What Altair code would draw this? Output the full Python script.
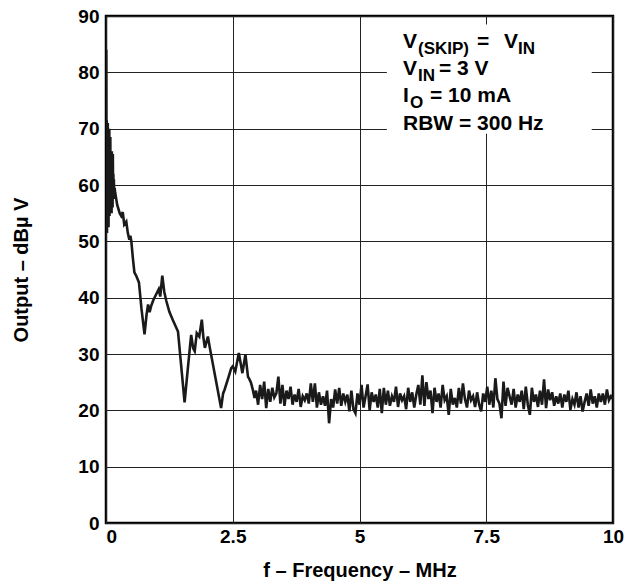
import altair as alt
import numpy as np
import pandas as pd

# Spectrum below 3 MHz: switching harmonics and their roll-off (MHz, dBµV)
head_freq = [0.000, 0.005, 0.010, 0.015, 0.020, 0.025, 0.030, 0.035, 0.040, 0.045,
             0.050, 0.055, 0.060, 0.065, 0.070, 0.075, 0.080, 0.085, 0.090, 0.095,
             0.100, 0.105, 0.110, 0.115, 0.120, 0.125, 0.130, 0.135, 0.140, 0.145,
             0.150, 0.155, 0.160, 0.170, 0.180,
             0.22, 0.27, 0.30, 0.33, 0.36, 0.40, 0.43, 0.46, 0.48, 0.50,
             0.53, 0.56, 0.60, 0.65, 0.70, 0.76, 0.80, 0.83, 0.86, 0.89,
             0.93, 0.99, 1.04, 1.07, 1.11, 1.15, 1.19, 1.25, 1.32, 1.42,
             1.55, 1.62, 1.68, 1.72, 1.75, 1.79, 1.84, 1.89, 1.92, 1.95,
             2.01, 2.05, 2.27, 2.31, 2.34, 2.42, 2.47, 2.50, 2.55, 2.62,
             2.69, 2.75, 2.80, 2.83, 2.86, 2.90, 2.93]
head_level = [51.5, 84.0, 52.0, 71.5, 51.5, 70.5, 53.0, 71.0, 54.0, 69.5,
              52.5, 68.0, 55.0, 70.0, 54.5, 67.5, 56.0, 68.5, 55.5, 66.0,
              56.5, 65.5, 55.0, 66.0, 57.0, 64.0, 56.0, 65.5, 58.0, 62.0,
              57.5, 61.0, 58.5, 59.5, 58.7,
              56.5, 55.0, 54.5, 55.2, 53.0, 53.5, 51.5, 50.3, 51.0, 50.0,
              47.0, 44.5, 43.8, 42.7, 38.0, 33.5, 37.0, 38.8, 37.4, 38.5,
              39.5, 40.6, 41.5, 40.2, 43.9, 41.0, 39.4, 37.5, 36.0, 34.0,
              21.4, 28.0, 33.4, 31.0, 30.5, 33.7, 33.1, 36.1, 33.0, 31.1,
              33.1, 31.0, 20.4, 23.0, 23.7, 26.0, 27.5, 27.8, 26.9, 30.2,
              26.6, 29.9, 26.0, 25.5, 24.9, 23.5, 22.2]

# Noise floor sweep, 2.96 MHz to 10 MHz in 40 kHz bins (dBµV)
floor_start = 2.96
floor_step = 0.04
floor_level = [
    23.5, 21.0, 24.5, 22.0, 25.1, 20.4, 23.8, 21.5, 24.0, 22.3,
    23.0, 26.0, 21.2, 24.5, 20.8, 23.5, 22.0, 24.2, 21.0, 22.8,
    21.5, 23.8, 20.6, 22.5, 21.8, 23.0, 21.2, 24.8, 21.5, 24.8,
    20.5, 23.2, 21.0, 22.5, 20.8, 23.5, 17.7, 22.0, 20.5, 23.7,
    21.2, 24.0, 20.8, 23.0, 21.5, 22.8, 19.8, 23.5, 20.2, 19.5,
    23.0, 21.0, 24.5, 20.5, 22.5, 24.6, 20.0, 23.2, 21.5, 22.8,
    20.5, 23.8, 19.5, 24.0, 21.0, 23.5, 20.8, 22.5, 21.5, 24.2,
    20.6, 23.0, 21.8, 22.5, 20.2, 24.0, 21.5, 23.2, 20.5, 22.8,
    24.5, 21.0, 26.2, 20.8, 25.0, 22.0, 23.5, 19.5, 24.0, 21.5,
    23.0, 20.5, 24.5, 21.8, 22.5, 19.2, 23.8, 21.0, 22.2, 20.5,
    24.0, 21.2, 24.8, 22.0, 20.5, 23.5, 21.8, 22.5, 20.6, 23.2,
    21.0, 19.8, 23.0, 21.5, 24.2, 21.0, 23.5, 20.5, 25.7, 22.0,
    21.2, 18.6, 25.1, 20.8, 24.0, 22.5, 21.0, 23.8, 20.5, 22.8,
    21.5, 23.5, 20.2, 24.2, 21.0, 19.2, 24.0, 21.5, 22.8, 20.6,
    23.5, 21.0, 25.5, 20.4, 23.7, 21.8, 23.2, 20.8, 22.5, 21.2,
    23.0, 20.5, 22.8, 21.5, 23.5, 20.1, 22.0, 21.0, 23.2, 20.5,
    22.5, 19.8, 21.5, 23.0, 20.8, 23.7, 21.2, 22.5, 20.5, 23.0,
    21.5, 23.0, 21.0, 23.7, 21.8, 22.5, 22.0,
]
floor_freq = np.round(floor_start + floor_step * np.arange(len(floor_level)), 3)

x_ticks = [0, 2.5, 5, 7.5, 10]
y_ticks = [0, 10, 20, 30, 40, 50, 60, 70, 80, 90]

spectrum = pd.DataFrame({
    "freq": list(head_freq) + list(floor_freq),
    "level": list(head_level) + list(floor_level),
})

FONT = "Liberation Sans"
W, H = 507, 507

x_scale = alt.Scale(domain=[0, 10], nice=False, zero=False)
y_scale = alt.Scale(domain=[0, 90], nice=False, zero=False)

trace = alt.Chart(spectrum).mark_line(
    color="#1a1a1a", strokeWidth=2.6, strokeJoin="miter", clip=True
).encode(
    x=alt.X("freq:Q", scale=x_scale,
            axis=alt.Axis(values=x_ticks, title="f – Frequency – MHz",
                          labelExpr="'' + datum.value",
                          labelFlush=False,
                          labelAlign={"condition": {"test": "datum.value == 0", "value": "left"},
                                      "value": "center"})),
    y=alt.Y("level:Q", scale=y_scale,
            axis=alt.Axis(values=y_ticks, title="Output – dBµ V")),
    order="freq:Q",
)

# White panel that holds the test conditions
panel = alt.Chart(pd.DataFrame({"x0": [5.54], "x1": [9.58], "y0": [69.1], "y1": [88.5]})).mark_rect(
    color="white"
).encode(
    x=alt.X("x0:Q", scale=x_scale), x2="x1:Q",
    y=alt.Y("y0:Q", scale=y_scale), y2="y1:Q",
)

# Condition text, split so subscripts can sit lower and smaller
cond = pd.DataFrame([
    ("V", 297, 32, "main"), ("(SKIP)", 312, 38, "sub"), ("=", 371, 32, "main"),
    ("V", 398, 32, "main"), ("IN", 412, 38, "sub"),
    ("V", 297, 59, "main"), ("IN", 312, 65, "sub"), ("= 3 V", 333, 59, "main"),
    ("I", 297, 86, "main"), ("O", 304, 92, "sub"), ("= 10 mA", 324, 86, "main"),
    ("RBW = 300 Hz", 297, 114, "main"),
], columns=["txt", "px", "py", "kind"])

main_txt = alt.Chart(cond).transform_filter("datum.kind == 'main'").mark_text(
    align="left", baseline="alphabetic", font=FONT, fontWeight="bold", fontSize=21, color="black"
).encode(x=alt.X("px:Q", scale=None), y=alt.Y("py:Q", scale=None), text="txt:N")

sub_txt = alt.Chart(cond).transform_filter("datum.kind == 'sub'").mark_text(
    align="left", baseline="alphabetic", font=FONT, fontWeight="bold", fontSize=17, color="black"
).encode(x=alt.X("px:Q", scale=None), y=alt.Y("py:Q", scale=None), text="txt:N")

chart = alt.layer(panel, trace, main_txt, sub_txt).properties(
    width=W, height=H,
    autosize=alt.AutoSizeParams(type="none"),
    padding={"left": 106, "top": 16, "right": 12, "bottom": 60},
    background="white",
).configure_view(
    stroke="black", strokeWidth=2.5
).configure_axis(
    grid=True, gridColor="#222222", gridWidth=1, gridOpacity=1,
    domain=False, ticks=False,
    labelFont=FONT, labelFontWeight="bold", labelFontSize=19, labelColor="black",
    titleFont=FONT, titleFontWeight="bold", titleFontSize=20, titleColor="black",
).configure_axisX(
    labelPadding=4, titlePadding=14,
).configure_axisY(
    labelPadding=7, titlePadding=46,
)

chart.save("out.html", embed_options={"renderer": "svg", "actions": False})
